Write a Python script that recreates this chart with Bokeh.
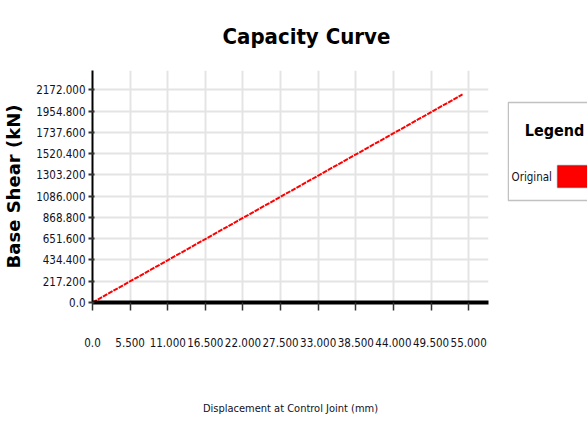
from bokeh.plotting import figure
from bokeh.models import FixedTicker, Range1d, BoxAnnotation, Label
from bokeh.layouts import row
from bokeh.embed import file_html
from bokeh.resources import INLINE

# ---- data ----
disp = [0.0, 54.1]            # displacement at control joint (mm)
shear = [0.0, 2126.0]         # base shear (kN)

x_ticks = [0.0, 5.5, 11.0, 16.5, 22.0, 27.5, 33.0, 38.5, 44.0, 49.5, 55.0]
x_tick_labels = ["0.0", "5.500", "11.000", "16.500", "22.000", "27.500",
                 "33.000", "38.500", "44.000", "49.500", "55.000"]
y_ticks = [0.0, 217.2, 434.4, 651.6, 868.8, 1086.0, 1303.2, 1520.4,
           1737.6, 1954.8, 2172.0]
y_tick_labels = ["0.0", "217.200", "434.400", "651.600", "868.800", "1086.000",
                 "1303.200", "1520.400", "1737.600", "1954.800", "2172.000"]
series_name = "Original"
series_color = "red"

COND = "DejaVu Sans Condensed"

p = figure(width=507, height=424, output_backend="svg", toolbar_location=None,
           x_range=Range1d(0, 57.9), y_range=Range1d(0, 2371),
           min_border_left=92, min_border_right=19, min_border_top=70,
           min_border_bottom=122, outline_line_color=None,
           title="Capacity Curve")

p.title.align = "left"
p.title.offset = 130
p.title.vertical_align = "bottom"
p.title.standoff = 43
p.title.text_font = COND
p.title.text_font_style = "bold"
p.title.text_font_size = "22px"
p.title.text_color = "black"

p.line(disp, shear, line_color=series_color, line_width=2, line_dash="5 1")

# axes
p.xaxis.ticker = FixedTicker(ticks=x_ticks)
p.xaxis.major_label_overrides = {t: l for t, l in zip(x_ticks, x_tick_labels)}
p.yaxis.ticker = FixedTicker(ticks=y_ticks)
p.yaxis.major_label_overrides = {t: l for t, l in zip(y_ticks, y_tick_labels)}

p.xaxis.axis_line_width = 4
p.xaxis.axis_line_color = "black"
p.xaxis.major_tick_out = 8
p.xaxis.major_tick_in = 0
p.xaxis.major_tick_line_width = 1.5
p.xaxis.major_tick_line_color = "#333333"
p.xaxis.minor_tick_line_color = None
p.xaxis.major_label_standoff = 27
p.xaxis.major_label_text_font = COND
p.xaxis.major_label_text_font_size = "11.5px"
p.xaxis.major_label_text_color = "#111122"
p.xaxis.axis_label = "Displacement at Control Joint (mm)"
p.xaxis.axis_label_text_font = COND
p.xaxis.axis_label_text_font_size = "11px"
p.xaxis.axis_label_text_font_style = "normal"
p.xaxis.axis_label_text_color = "#111122"
p.xaxis.axis_label_standoff = 52

p.yaxis.axis_line_width = 2
p.yaxis.axis_line_color = "black"
p.yaxis.major_tick_out = 4
p.yaxis.major_tick_in = 2
p.yaxis.major_tick_line_width = 2
p.yaxis.major_tick_line_color = "#333333"
p.yaxis.minor_tick_line_color = None
p.yaxis.major_label_standoff = 3
p.yaxis.major_label_text_font = COND
p.yaxis.major_label_text_font_size = "11.5px"
p.yaxis.major_label_text_color = "#111122"
p.yaxis.axis_label = "Base Shear (kN)"
p.yaxis.axis_label_text_font = "DejaVu Sans"
p.yaxis.axis_label_text_font_size = "18px"
p.yaxis.axis_label_text_font_style = "bold"
p.yaxis.axis_label_text_color = "black"
p.yaxis.axis_label_standoff = 9

p.xgrid.grid_line_color = "#e4e4e4"
p.xgrid.grid_line_width = 2
p.ygrid.grid_line_color = "#e4e4e4"
p.ygrid.grid_line_width = 2

# ---- legend panel: an axis-less figure to the right (1 unit = 1 px) ----
lf = figure(width=80, height=424, output_backend="svg", toolbar_location=None,
            x_range=Range1d(0, 80), y_range=Range1d(0, 232),
            x_axis_location=None, y_axis_location=None,
            min_border=0, outline_line_color=None)
lf.grid.visible = False

lf.add_layout(BoxAnnotation(left=0.75, right=95, bottom=102, top=200,
                            fill_color="white", fill_alpha=1.0,
                            line_color="#333333", line_width=1.5,
                            editable=False))
lf.add_layout(BoxAnnotation(left=50, right=95, bottom=115, top=137,
                            fill_color=series_color, fill_alpha=1.0,
                            line_color="black", line_width=1.5,
                            editable=False))
lf.add_layout(Label(x=47, y=172, text="Legend", text_align="center",
                    text_baseline="middle", text_font=COND,
                    text_font_style="bold", text_font_size="16px",
                    text_color="black"))
lf.add_layout(Label(x=4, y=126, text=series_name, text_align="left",
                    text_baseline="middle", text_font=COND,
                    text_font_size="11.5px", text_color="#111122"))

open("out.html", "w").write(file_html(row(p, lf), INLINE))
